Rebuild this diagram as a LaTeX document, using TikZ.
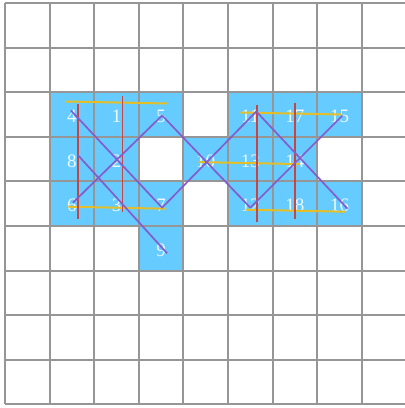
\documentclass[tikz,border=0pt]{standalone}
\usepackage{tikz}
\usepackage{fontspec}
\setmainfont{Liberation Serif}
\definecolor{cellblue}{RGB}{102,204,255}
\definecolor{gridgray}{RGB}{150,150,150}
\definecolor{lblwhite}{RGB}{240,248,255}
\definecolor{yelline}{RGB}{228,190,40}
\definecolor{redline}{RGB}{198,70,70}
\definecolor{purpline}{RGB}{132,92,205}
\tikzset{
  gridline/.style={draw=gridgray, line width=2pt},
  cellfill/.style={fill=cellblue, draw=none},
  lbl/.style={text=lblwhite, font=\fontsize{19}{21}\selectfont, inner sep=0pt, anchor=center},
  yconn/.style={draw=yelline, line width=2pt},
  rconn/.style={draw=redline, line width=1.7pt},
  pconn/.style={draw=purpline, line width=1.7pt}
}
\newcommand{\cellat}[2]{\fill[cellfill] ({5+44.6*#1},{3+44.6*#2}) rectangle ({5+44.6*(#1+1)},{3+44.6*(#2+1)});}
\newcommand{\lblat}[3]{\node[lbl] (n#3) at ({5+44.6*(#1+0.5)},{3+44.6*(#2+0.5)+2}) {#3};}
\begin{document}
\begin{tikzpicture}[x=1pt,y=-1pt]
\useasboundingbox (0,0) rectangle (405,408);
% blue cells
\foreach \c/\r in {1/2,2/2,3/2,5/2,6/2,7/2,1/3,2/3,4/3,5/3,6/3,1/4,2/4,3/4,5/4,6/4,7/4,3/5}{\cellat{\c}{\r}}
% grid
\foreach \i in {0,...,8}{\draw[gridline] ({5+44.6*\i},3) -- ({5+44.6*\i},{3+44.6*9});}
\foreach \j in {0,...,9}{\draw[gridline] (5,{3+44.6*\j}) -- (410,{3+44.6*\j});}
% labels
\lblat{2}{2}{1}
\lblat{2}{3}{2}
\lblat{2}{4}{3}
\lblat{1}{2}{4}
\lblat{3}{2}{5}
\lblat{1}{4}{6}
\lblat{3}{4}{7}
\lblat{1}{3}{8}
\lblat{3}{5}{9}
\lblat{4}{3}{10}
\lblat{5}{2}{11}
\lblat{5}{4}{12}
\lblat{5}{3}{13}
\lblat{6}{3}{14}
\lblat{7}{2}{15}
\lblat{7}{4}{16}
\lblat{6}{2}{17}
\lblat{6}{4}{18}
% yellow connectors
\draw[yconn] ([shift={(-6,-15)}]n4.center) -- ([shift={(6,-13)}]n5.center);
\draw[yconn] ([shift={(-4,1)}]n6.center) -- ([shift={(5,3)}]n7.center);
\draw[yconn] ([shift={(-10,-4)}]n11.center) -- ([shift={(2,-2)}]n15.center);
\draw[yconn] ([shift={(-7,1)}]n10.center) -- ([shift={(5,3)}]n14.center);
\draw[yconn] ([shift={(-5,4)}]n12.center) -- ([shift={(6,6)}]n16.center);
% red connectors
\draw[rconn] ([shift={(6,-13)}]n4.center) -- ([shift={(6,13)}]n6.center);
\draw[rconn] ([shift={(6,-21)}]n1.center) -- ([shift={(6,6)}]n3.center);
\draw[rconn] ([shift={(7,-12)}]n11.center) -- ([shift={(7,16)}]n12.center);
\draw[rconn] ([shift={(0,-14)}]n17.center) -- ([shift={(0,13)}]n18.center);
% purple connectors
\draw[pconn] ([shift={(-1,-6)}]n4.center) -- ([shift={(1,2)}]n7.center);
\draw[pconn] ([shift={(6,-6)}]n8.center) -- ([shift={(6,3)}]n9.center);
\draw[pconn] ([shift={(1,-3)}]n6.center) -- ([shift={(1,-1)}]n5.center);
\draw[pconn] ([shift={(1,-1)}]n5.center) -- ([shift={(0,2)}]n12.center);
\draw[pconn] ([shift={(1,2)}]n7.center) -- ([shift={(6,-5)}]n11.center);
\draw[pconn] ([shift={(6,-5)}]n11.center) -- ([shift={(8,3)}]n16.center);
\draw[pconn] ([shift={(0,2)}]n12.center) -- ([shift={(3,-1)}]n15.center);
\end{tikzpicture}
\end{document}
